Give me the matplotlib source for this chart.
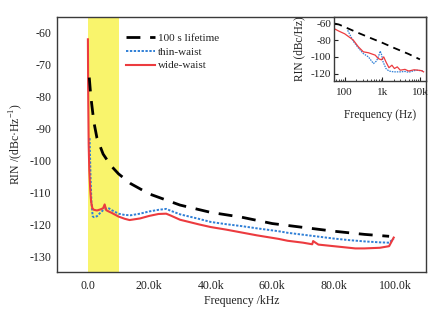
import matplotlib
matplotlib.use("Agg")
import matplotlib.pyplot as plt
import numpy as np

# ---------------- data ----------------
# Main chart (frequency in kHz, RIN in dBc/Hz)
life_f = [0.5, 1, 2, 3, 5, 7.5, 10, 14, 20, 30, 40, 50, 60, 70, 80, 90, 98]
life_v = [-74, -80, -88, -93, -98, -101.6, -104.2, -107.3, -110.5, -114, -116.3,
          -117.8, -119.8, -121, -122.2, -123.2, -123.8]

thin_f = [0.6, 0.9, 1.2, 1.6, 2.0, 3.0, 4.0, 5.0, 6.0, 6.5, 7.0, 8.0, 10, 12, 14, 17, 20,
          23, 25.5, 27, 30, 36, 40, 45, 50, 55, 62, 65, 70, 75, 80, 85, 90, 95, 98, 99.5]
thin_v = [-93, -105, -113, -117.5, -117.8, -117.5, -116.5, -115.6, -115.1, -114.9, -115.1,
          -115.7, -116.7, -117.1, -117.2, -116.7, -116, -115.5, -115.2, -115.8, -116.9,
          -118.3, -119.3, -120, -120.6, -121.3, -122.2, -122.7, -123.3, -123.9, -124.5,
          -125, -125.4, -125.7, -125.8, -124.5]

wide_f = [0.05, 0.15, 0.3, 0.5, 0.8, 1.1, 1.5, 2, 3, 4, 5, 5.5, 6, 7, 7.7, 10, 12, 13.6,
          17, 20, 23, 25.5, 27, 30, 36.3, 40, 45, 50, 55, 62, 65, 70, 73, 73.3, 75, 80,
          87, 90, 95, 98, 99.5]
wide_v = [-62, -80, -95, -103, -109, -113, -115, -115.5, -115.7, -115.4, -115, -113.8,
          -115.6, -116.1, -116.4, -117.6, -118.3, -118.7, -118.2, -117.4, -116.8, -116.7,
          -117.3, -118.6, -120.1, -120.9, -121.7, -122.6, -123.5, -124.6, -125.2, -125.8,
          -126.3, -125.3, -126.4, -126.9, -127.6, -127.6, -127.4, -126.9, -124.2]

band_kHz = [0, 10]

x_ticks = [0, 20, 40, 60, 80, 100]
x_tick_labels = ["0.0", "20.0k", "40.0k", "60.0k", "80.0k", "100.0k"]
y_ticks = [-60, -70, -80, -90, -100, -110, -120, -130]
y_tick_labels = ["-60", "-70", "-80", "-90", "-100", "-110", "-120", "-130"]

# Inset (frequency in Hz, log scale)
in_life_f = [55, 70, 100, 200, 500, 1000, 2000, 5000, 10000]
in_life_v = [-60, -61, -64, -70, -77.5, -83, -89, -96.5, -103]

in_wide_f = [55, 70, 100, 168, 229, 313, 427, 648, 780, 950, 1090, 1250, 1500, 1800,
             2100, 2500, 3000, 4000, 5000, 7000, 9000, 11000, 12500]
in_wide_v = [-66.5, -69, -72.2, -79.6, -87.7, -93.9, -95, -97.9, -102, -103.5, -100,
             -106, -113, -110, -114, -112, -116, -115, -117, -115.5, -116, -116.5, -118]

in_thin_f = [120, 168, 229, 313, 427, 583, 700, 800, 880, 950, 1050, 1250, 1500, 2000,
             3000, 4000, 5000, 6500, 8000, 10000, 12500]
in_thin_v = [-68, -81, -89, -96, -100, -108, -105, -99, -93, -97, -106, -114, -117,
             -118, -118, -117.5, -118.5, -117, -116, -116.5, -117]

in_y_ticks = [-60, -80, -100, -120]
in_y_tick_labels = ["-60", "-80", "-100", "-120"]
in_x_ticks = [100, 1000, 10000]
in_x_tick_labels = ["100", "1k", "10k"]

# ---------------- style ----------------
plt.rcParams['font.family'] = ['Liberation Serif', 'DejaVu Serif']
plt.rcParams['mathtext.fontset'] = 'custom'
plt.rcParams['mathtext.rm'] = 'Liberation Serif'

BLACK = '#000000'
BLUE = '#2f7fd6'
RED = '#ec3b3f'
YELLOW = '#f9f46c'
SPINE = '#3a3a3a'
TXT = '#222222'

fig = plt.figure(figsize=(4.46, 3.19), dpi=100)
ax = fig.add_axes([57/446, 1 - 272/319, (426-57)/446, (272-17)/319])

ax.axvspan(band_kHz[0], band_kHz[1], color=YELLOW, lw=0, zorder=0)
ax.plot(life_f, life_v, color=BLACK, lw=2.0, dashes=(5, 3.5), label='100 s lifetime', zorder=3)
ax.plot(thin_f, thin_v, color=BLUE, lw=1.4, ls=(0, (1.2, 0.8)), label='thin-waist', zorder=2)
ax.plot(wide_f, wide_v, color=RED, lw=1.5, label='wide-waist', zorder=2)

ax.set_xlim(-10, 110)
ax.set_ylim(-135, -55)
ax.set_xticks(x_ticks)
ax.set_xticklabels(x_tick_labels)
ax.set_yticks(y_ticks)
ax.set_yticklabels(y_tick_labels)
ax.tick_params(length=0, labelsize=8.6, colors=TXT)
ax.tick_params(axis='x', pad=6)
ax.tick_params(axis='y', pad=4)
for s in ax.spines.values():
    s.set_color(SPINE)
    s.set_linewidth(1.0)
ax.set_xlabel('Frequency /kHz', fontsize=8.5, color=TXT, labelpad=2)
ax.set_ylabel('RIN /(dBc·Hz$^{\\mathregular{-1}}$)', fontsize=8.5, color=TXT, labelpad=3)

leg = ax.legend(loc='upper left', bbox_to_anchor=(0.17, 0.962), frameon=False,
                fontsize=8, handlelength=2.6, handletextpad=0.25, labelspacing=0.35,
                borderaxespad=0.2)
for t in leg.get_texts():
    t.set_color(TXT)

# inset
axi = fig.add_axes([334/446, 1 - 81/319, (426-334)/446, (81-17)/319])
axi.plot(in_life_f, in_life_v, color=BLACK, lw=1.3, dashes=(4, 3))
axi.plot(in_thin_f, in_thin_v, color=BLUE, lw=0.9, ls=(0, (1.2, 0.8)))
axi.plot(in_wide_f, in_wide_v, color=RED, lw=0.9)
axi.set_xscale('log')
axi.set_xlim(52, 14500)
axi.set_ylim(-129, -52)
axi.set_yticks(in_y_ticks)
axi.set_yticklabels(in_y_tick_labels)
axi.set_xticks(in_x_ticks)
axi.set_xticklabels(in_x_tick_labels)
axi.tick_params(which='both', direction='in', labelsize=8, colors=TXT, pad=2)
axi.tick_params(which='major', length=3)
axi.tick_params(which='minor', length=1.5)
axi.tick_params(axis='x', pad=5)
for s in axi.spines.values():
    s.set_color(SPINE)
    s.set_linewidth(1.0)
axi.set_xlabel('Frequency (Hz)', fontsize=8.3, color=TXT, labelpad=9)
axi.set_ylabel('RIN (dBc/Hz)', fontsize=8.3, color=TXT, labelpad=4)

fig.savefig('out.png', dpi=100)
